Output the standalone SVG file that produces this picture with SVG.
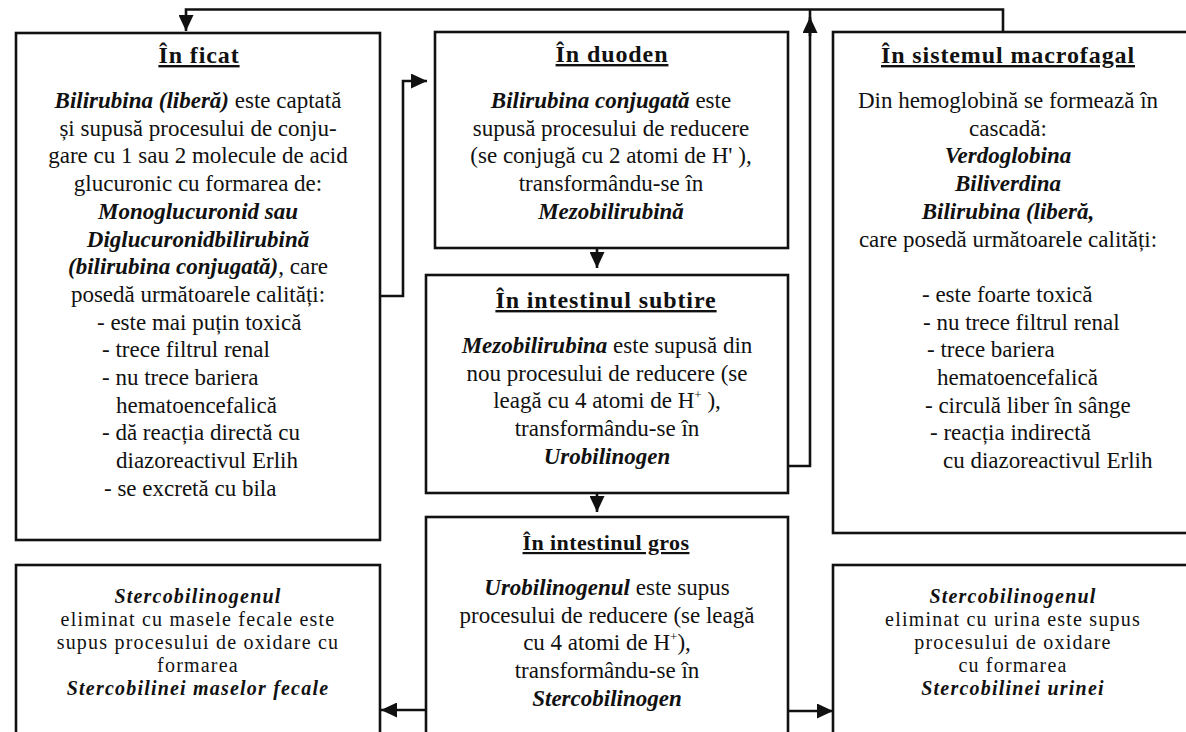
<svg xmlns="http://www.w3.org/2000/svg" width="1186" height="732" viewBox="0 0 1186 732">
  <style>
    .box { fill: #ffffff; stroke: #111; stroke-width: 2.6; }
    .conn { fill: none; stroke: #111; stroke-width: 2.6; }
    text { font-family: "Liberation Serif", "Times New Roman", serif; fill: #111; }
    .t { font-size: 23px; }
    .s { font-size: 20px; letter-spacing: 1.2px; text-anchor: middle; }
    .c { text-anchor: middle; }
    .h { font-size: 24px; font-weight: bold; letter-spacing: 0.9px; text-anchor: middle; text-decoration: underline; }
    .bi { font-weight: bold; font-style: italic; }
    .sup { font-size: 13px; }
  </style>
  <defs>
    <marker id="arrow" markerUnits="userSpaceOnUse" markerWidth="17" markerHeight="15" refX="16" refY="7.5" orient="auto">
      <path d="M0,0 L16,7.5 L0,15 z" fill="#111"/>
    </marker>
  </defs>
  <rect width="1186" height="732" fill="#ffffff"/>

  <!-- liver -->
  <g id="ficat">
    <rect class="box" x="16" y="33" width="364" height="507"/>
    <text class="h" x="199" y="63">În ficat</text>
    <text class="t c" x="198" y="108"><tspan class="bi">Bilirubina (liberă)</tspan> este captată</text>
    <text class="t c" x="198" y="135.7">și supusă procesului de conju-</text>
    <text class="t c" x="198" y="163.4">gare cu 1 sau 2 molecule de acid</text>
    <text class="t c" x="198" y="191.1">glucuronic cu formarea de:</text>
    <text class="t c bi" x="198" y="218.8">Monoglucuronid sau</text>
    <text class="t c bi" x="198" y="246.5">Diglucuronidbilirubină</text>
    <text class="t c" x="198" y="274.2"><tspan class="bi">(bilirubina conjugată)</tspan>, care</text>
    <text class="t c" x="198" y="301.9">posedă următoarele calități:</text>
    <text class="t" x="97" y="329.6">- este mai puțin toxică</text>
    <text class="t" x="102" y="357.3">- trece filtrul renal</text>
    <text class="t" x="102" y="385">- nu trece bariera</text>
    <text class="t" x="116" y="412.7">hematoencefalică</text>
    <text class="t" x="102" y="440.4">- dă reacția directă cu</text>
    <text class="t" x="116" y="468.1">diazoreactivul Erlih</text>
    <text class="t" x="104" y="495.8">- se excretă cu bila</text>
  </g>

  <!-- duodenum -->
  <g id="duoden">
    <rect class="box" x="435" y="32" width="353" height="216"/>
    <text class="h" x="612" y="62">În duoden</text>
    <text class="t c" x="611" y="108"><tspan class="bi">Bilirubina conjugată</tspan> este</text>
    <text class="t c" x="611" y="135.7">supusă procesului de reducere</text>
    <text class="t c" x="611" y="163.4">(se conjugă cu 2 atomi de H' ),</text>
    <text class="t c" x="611" y="191.1">transformându-se în</text>
    <text class="t c bi" x="611" y="218.8">Mezobilirubină</text>
  </g>

  <!-- small intestine -->
  <g id="intestinul-subtire">
    <rect class="box" x="426" y="275" width="362" height="218"/>
    <text class="h" x="606" y="308">În intestinul subtire</text>
    <text class="t c" x="607" y="353"><tspan class="bi">Mezobilirubina</tspan> este supusă din</text>
    <text class="t c" x="607" y="380.7">nou procesului de reducere (se</text>
    <text class="t c" x="607" y="408.4">leagă cu 4 atomi de H<tspan class="sup" dy="-9">+</tspan><tspan dy="9"> ),</tspan></text>
    <text class="t c" x="607" y="436.1">transformându-se în</text>
    <text class="t c bi" x="607" y="463.8">Urobilinogen</text>
  </g>

  <!-- large intestine -->
  <g id="intestinul-gros">
    <rect class="box" x="426" y="517" width="362" height="230"/>
    <text class="h" x="606" y="550" style="font-size:22px;letter-spacing:0.4px">În intestinul gros</text>
    <text class="t c" x="607" y="595"><tspan class="bi">Urobilinogenul</tspan> este supus</text>
    <text class="t c" x="607" y="622.7">procesului de reducere (se leagă</text>
    <text class="t c" x="607" y="650.4">cu 4 atomi de H<tspan class="sup" dy="-9">+</tspan><tspan dy="9">),</tspan></text>
    <text class="t c" x="607" y="678.1">transformându-se în</text>
    <text class="t c bi" x="607" y="705.8">Stercobilinogen</text>
  </g>

  <!-- macrophage system -->
  <g id="sistemul-macrofagal">
    <rect class="box" x="833" y="32" width="370" height="501"/>
    <text class="h" x="1008" y="63">În sistemul macrofagal</text>
    <text class="t c" x="1008" y="108">Din hemoglobină se formează în</text>
    <text class="t c" x="1008" y="135.7">cascadă:</text>
    <text class="t c bi" x="1008" y="163.4">Verdoglobina</text>
    <text class="t c bi" x="1008" y="191.1">Biliverdina</text>
    <text class="t c bi" x="1008" y="218.8">Bilirubina (liberă,</text>
    <text class="t c" x="1008" y="246.5">care posedă următoarele calități:</text>
    <text class="t" x="922" y="301.9">- este foarte toxică</text>
    <text class="t" x="923" y="329.6">- nu trece filtrul renal</text>
    <text class="t" x="927" y="357.3">- trece bariera</text>
    <text class="t" x="937" y="385">hematoencefalică</text>
    <text class="t" x="925" y="412.7">- circulă liber în sânge</text>
    <text class="t" x="930" y="440.4">- reacția indirectă</text>
    <text class="t" x="943" y="468.1">cu diazoreactivul Erlih</text>
  </g>

  <!-- faecal stercobilin -->
  <g id="stercobilina-fecale">
    <rect class="box" x="16" y="565" width="364" height="180"/>
    <text class="s bi" x="198" y="603">Stercobilinogenul</text>
    <text class="s" x="198" y="626">eliminat cu masele fecale este</text>
    <text class="s" x="198" y="649">supus procesului de oxidare cu</text>
    <text class="s" x="198" y="672">formarea</text>
    <text class="s bi" x="198" y="695">Stercobilinei maselor fecale</text>
  </g>

  <!-- urinary stercobilin -->
  <g id="stercobilina-urina">
    <rect class="box" x="833" y="565" width="370" height="180"/>
    <text class="s bi" x="1013" y="603">Stercobilinogenul</text>
    <text class="s" x="1013" y="626">eliminat cu urina este supus</text>
    <text class="s" x="1013" y="649">procesului de oxidare</text>
    <text class="s" x="1013" y="672">cu formarea</text>
    <text class="s bi" x="1013" y="695">Stercobilinei urinei</text>
  </g>

  <g id="connectors">
    <path class="conn" d="M1003,32 V9.5 H186 V31" marker-end="url(#arrow)"/>
    <path class="conn" d="M788,466 H810 V9.5"/>
    <path class="conn" d="M810,36 V17" marker-end="url(#arrow)"/>
    <path class="conn" d="M380,296 H403 V81 H427" marker-end="url(#arrow)"/>
    <path class="conn" d="M597,248 V268" marker-end="url(#arrow)"/>
    <path class="conn" d="M597,493 V512" marker-end="url(#arrow)"/>
    <path class="conn" d="M426,710 H381" marker-end="url(#arrow)"/>
    <path class="conn" d="M788,711 H833" marker-end="url(#arrow)"/>
  </g>
</svg>
